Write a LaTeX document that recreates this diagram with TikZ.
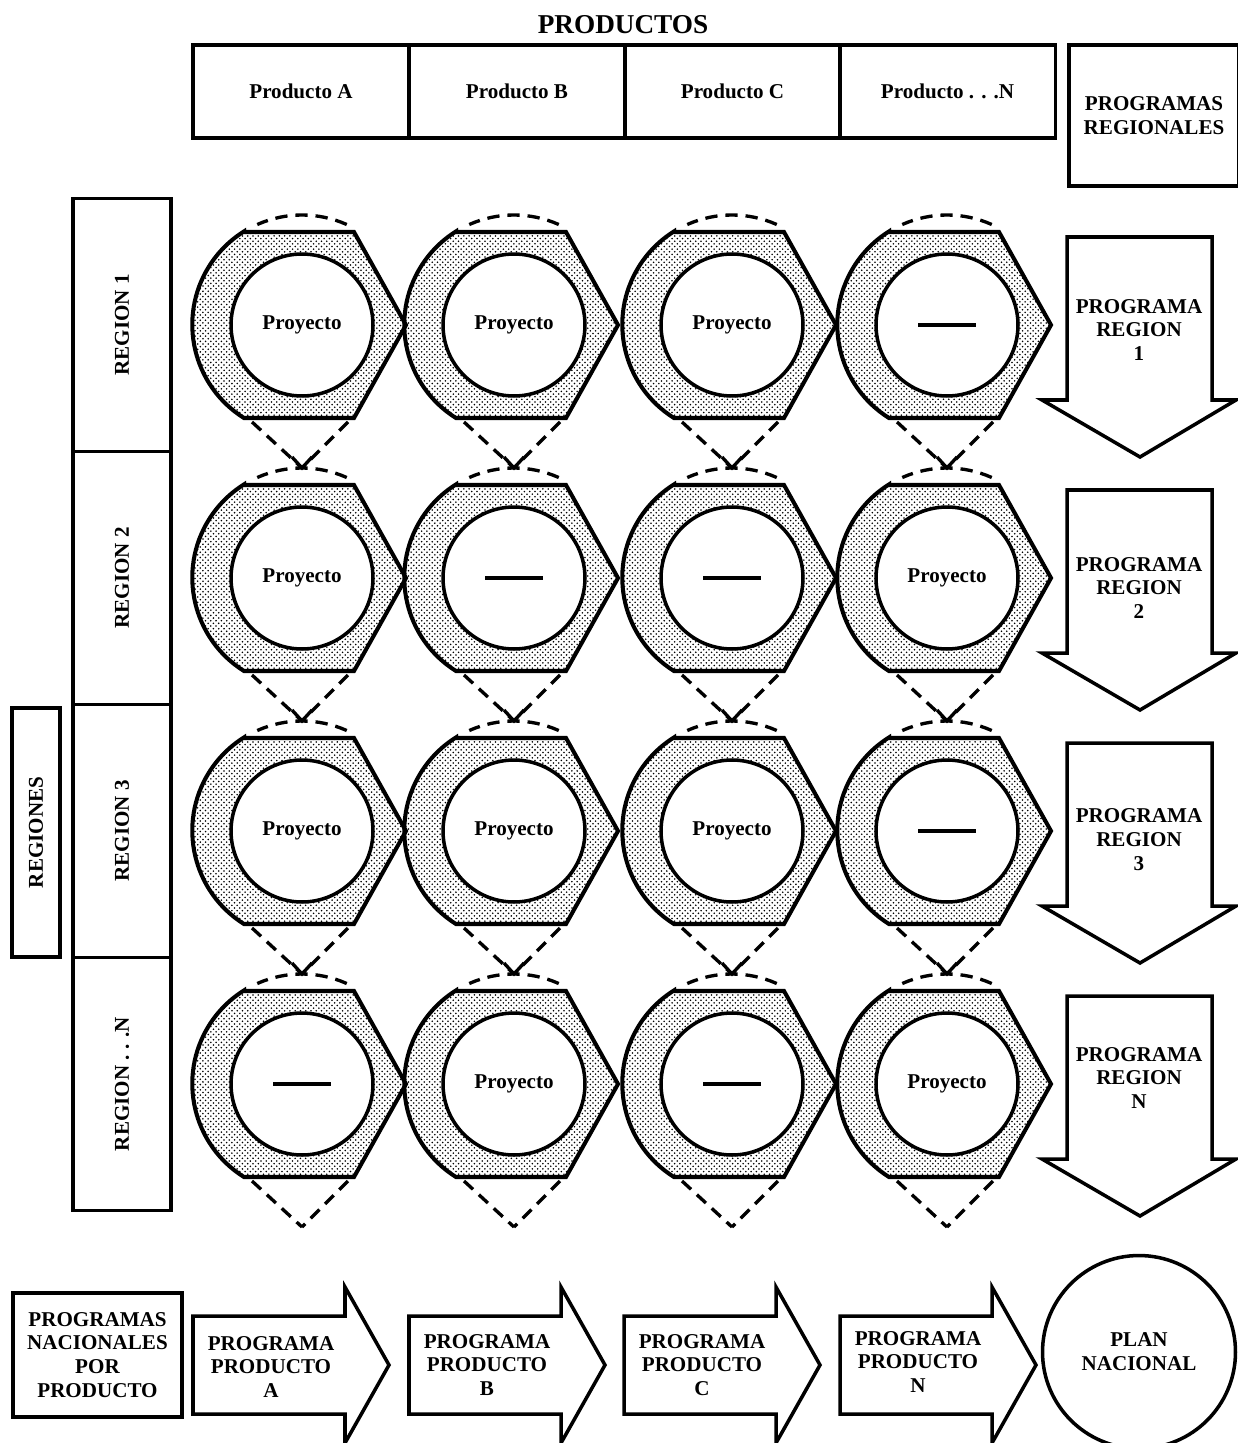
\documentclass[tikz,border=0pt]{standalone}
\usepackage{fontspec}
\setmainfont{Liberation Serif}
\usetikzlibrary{patterns,calc}

\newcommand{\nada}{\rule{1.15cm}{2pt}}

\begin{document}
\begin{tikzpicture}[x=0.02cm,y=0.02cm,
  txt/.style={font=\bfseries\fontsize{12}{13.6}\selectfont,align=center},
  caja/.style={draw,line width=2pt,txt},
  anillo/.style={draw,line width=2.3pt,pattern=crosshatch dots},
  hueco/.style={circle,draw,line width=2pt,fill=white,minimum size=2.84cm,inner sep=0,txt},
  punteado/.style={line width=1.9pt,dash pattern=on 7pt off 4.5pt},
  flecha/.style={draw,line width=2pt,fill=white,line join=miter}]

\useasboundingbox (0,0) rectangle (1237,-1443);

% Productos
\node[font=\bfseries\fontsize{15.5}{18}\selectfont] (productos) at (623,-25) {PRODUCTOS};
\node[caja,minimum width=4.32cm,minimum height=1.86cm] (prodA) at (301,-91.5) {Producto A};
\node[caja,minimum width=4.32cm,minimum height=1.86cm] (prodB) at (517,-91.5) {Producto B};
\node[caja,minimum width=4.32cm,minimum height=1.86cm] (prodC) at (732.5,-91.5) {Producto C};
\node[caja,minimum width=4.32cm,minimum height=1.86cm] (prodN) at (947.5,-91.5) {Producto . . .N};
\node[caja,minimum width=3.4cm,minimum height=2.82cm] (progreg) at (1154,-115.5) {PROGRAMAS\\REGIONALES};

% Regiones
\node[caja,rotate=90,minimum width=4.98cm,minimum height=0.96cm] (regiones) at (36,-832.5) {REGIONES};
\node[caja,rotate=90,minimum width=5.06cm,minimum height=1.96cm] (reg1) at (122,-325) {REGION 1};
\node[caja,rotate=90,minimum width=5.06cm,minimum height=1.96cm] (reg2) at (122,-578) {REGION 2};
\node[caja,rotate=90,minimum width=5.06cm,minimum height=1.96cm] (reg3) at (122,-831) {REGION 3};
\node[caja,rotate=90,minimum width=5.06cm,minimum height=1.96cm] (regN) at (122,-1084) {REGION . . .N};

% anillos
\foreach \fila/\cy in {1/325,2/578,3/831,4/1084}{
  \foreach \col/\cx in {A/302,B/514,C/732,N/947}{
    \path[anillo] (\cx-58,-\cy+93) -- (\cx+52,-\cy+93) -- (\cx+104,-\cy)
      -- (\cx+52,-\cy-93) -- (\cx-58,-\cy-93)
      arc[start angle=238,end angle=122,radius=110] -- cycle;
    \coordinate (bl\fila\col) at (\cx-50,-\cy-97);
    \coordinate (br\fila\col) at (\cx+46,-\cy-97);
    \coordinate (v\fila\col) at (\cx,-\cy-143);
    \draw[punteado] (\cx,-\cy) ++(66:110) arc[start angle=66,end angle=114,radius=110];
    \draw[punteado] (bl\fila\col) -- (v\fila\col);
    \draw[punteado] (br\fila\col) -- (v\fila\col);
    \ifnum\fila<4
      \draw[line width=1.9pt] ($(v\fila\col)+(-10,11)$) -- (v\fila\col) -- ($(v\fila\col)+(10,11)$);
    \fi
  }
}

% Proyectos
\node[hueco] (c1A) at (302,-325) {Proyecto};
\node[hueco] (c1B) at (514,-325) {Proyecto};
\node[hueco] (c1C) at (732,-325) {Proyecto};
\node[hueco] (c1N) at (947,-325) {\nada};
\node[hueco] (c2A) at (302,-578) {Proyecto};
\node[hueco] (c2B) at (514,-578) {\nada};
\node[hueco] (c2C) at (732,-578) {\nada};
\node[hueco] (c2N) at (947,-578) {Proyecto};
\node[hueco] (c3A) at (302,-831) {Proyecto};
\node[hueco] (c3B) at (514,-831) {Proyecto};
\node[hueco] (c3C) at (732,-831) {Proyecto};
\node[hueco] (c3N) at (947,-831) {\nada};
\node[hueco] (c4A) at (302,-1084) {\nada};
\node[hueco] (c4B) at (514,-1084) {Proyecto};
\node[hueco] (c4C) at (732,-1084) {\nada};
\node[hueco] (c4N) at (947,-1084) {Proyecto};

% programas regionales
\foreach \fila/\cy/\ty/\et in {1/325/330/1,2/578/588/2,3/831/840/3,4/1084/1078/N}{
  \draw[flecha] (1067,-\cy+88) -- (1212,-\cy+88) -- (1212,-\cy-75) -- (1236,-\cy-75)
    -- (1140,-\cy-132) -- (1042,-\cy-75) -- (1067,-\cy-75) -- cycle;
  \node[txt] (preg\fila) at (1139,-\ty) {PROGRAMA\\REGION\\\et};
}

% programas nacionales
\node[caja,minimum width=3.38cm,minimum height=2.48cm] (nacional) at (97.5,-1355) {PROGRAMAS\\NACIONALES\\POR\\PRODUCTO};
\foreach \col/\L/\ty in {A/193/1367,B/409/1365,C/624/1365,N/840/1362}{
  \draw[flecha] (\L,-1316) -- (\L+152,-1316) -- (\L+152,-1287) -- (\L+196,-1365)
    -- (\L+152,-1443) -- (\L+152,-1414) -- (\L,-1414) -- cycle;
  \node[txt] (pprod\col) at (\L+78,-\ty) {PROGRAMA\\PRODUCTO\\\col};
}
\node[caja,circle,minimum size=3.86cm,inner sep=0] (plan) at (1139,-1352) {PLAN\\NACIONAL};

\end{tikzpicture}
\end{document}
